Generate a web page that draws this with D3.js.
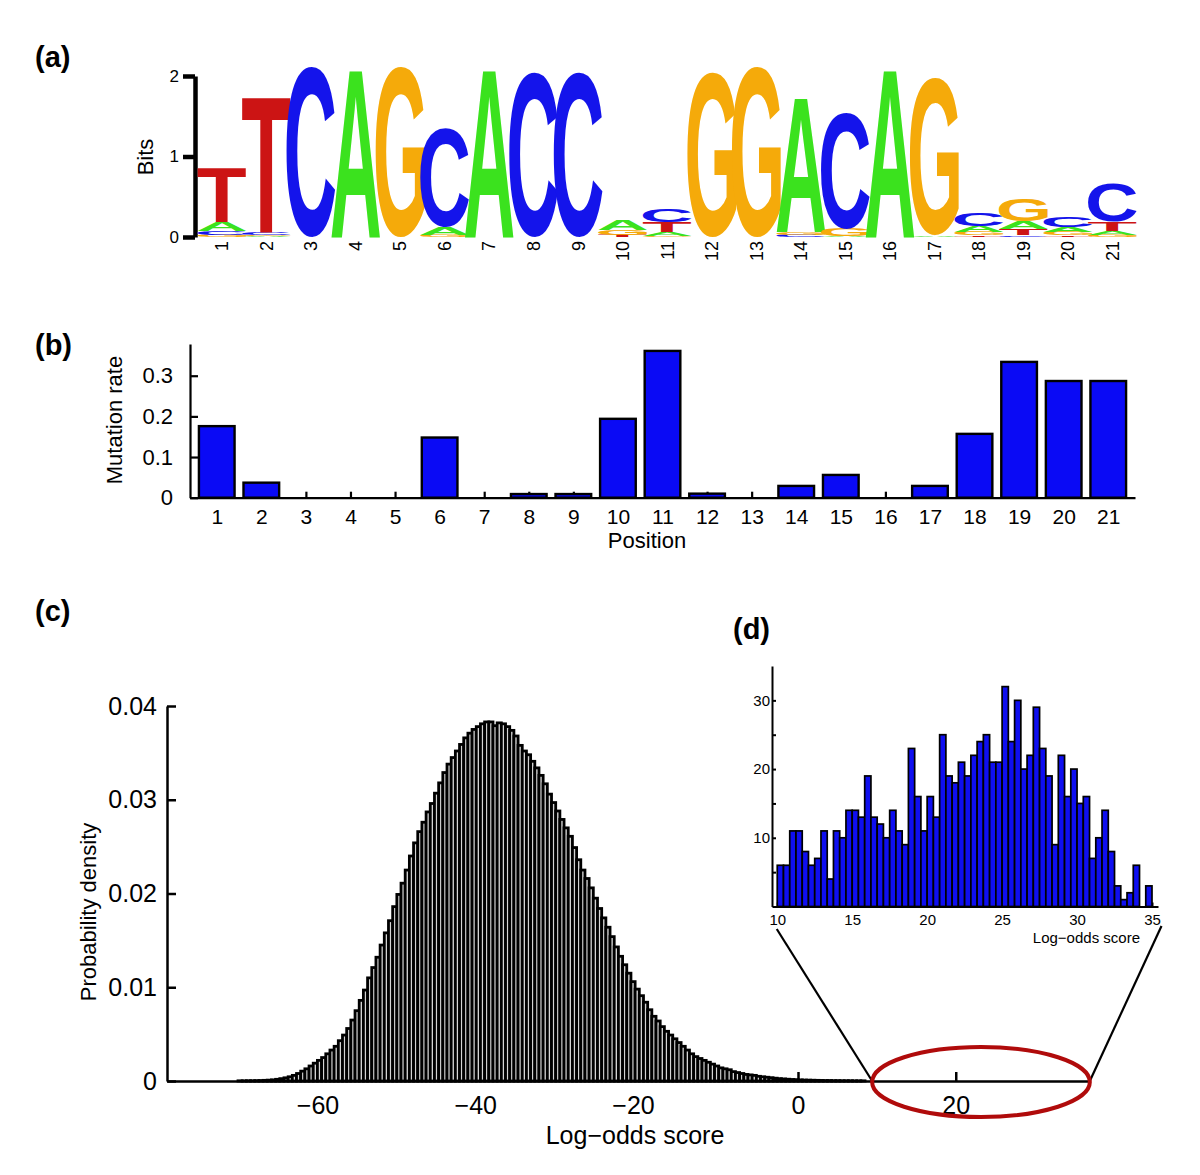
<!DOCTYPE html>
<html><head><meta charset="utf-8">
<script src="https://cdn.jsdelivr.net/npm/d3@7"></script>
<style>
body{margin:0;background:#fff}
svg text{font-family:"Liberation Sans",Arial,Helvetica,sans-serif}
</style>
</head><body>
<svg id="chart" width="1200" height="1175"></svg>
<script>
// ---------------- DATA ----------------
const positions = [1,2,3,4,5,6,7,8,9,10,11,12,13,14,15,16,17,18,19,20,21];
// sequence logo (bits per letter at each position)
const logoA = [0.11,0.01,0,2.10,0,0.09,2.10,0,0,0.12,0.05,0,0,1.68,0.01,2.10,0.02,0.08,0.09,0.06,0.05];
const logoC = [0.05,0.03,2.11,0,0,1.23,0,2.05,2.05,0,0.16,0,0,0.03,1.44,0,0,0.16,0.02,0.13,0.48];
const logoG = [0.03,0.01,0,0,2.11,0.03,0,0,0,0.06,0.01,2.05,2.11,0.03,0.09,0,1.95,0.04,0.27,0.04,0.03];
const logoT = [0.67,1.69,0,0,0,0,0,0,0,0.03,0.13,0,0,0,0,0,0,0.02,0.08,0.02,0.11];
const logoTicks = [0,1,2];
// mutation rate per position
const mutationRate = [0.176,0.037,0,0,0,0.148,0,0.009,0.009,0.194,0.361,0.010,0,0.029,0.056,0,0.029,0.157,0.334,0.287,0.287];
const mutTicks = [0,0.1,0.2,0.3];
// main histogram: probability density (x 1e-4) in consecutive bins
const mainBinStart = -71.0;
const mainBinWidth = 0.53;
const mainDensityE4 = [
 0.2,0.2,0.3,0.3,0.4,0.5,0.7,0.9,1.2,1.8,
 2.5,3.4,4.5,6,8,10.5,13,16,19,22,
 25,29,33,37,43,49,56,65,75,86,
 97,110,121,132,145,158,171,186,199,211,
 225,240,254,266,276,287,296,307,318,329,
 338,345,352,359,366,371,375,378,381,383,
 383,379,382,381,378,374,368,358,352,348,
 341,334,326,317,306,297,288,279,270,261,
 249,236,225,216,206,195,184,174,164,154,
 143,133,124,115,106,98,91,84,76,69,
 64,58,53,49,45,41,37,33,29,26,
 24,22,20,18,16,14,13,12,10,9,
 8,7,6.5,6,5,4.5,4,3.5,3,2.5,
 2.2,1.9,1.6,1.4,1.2,1.0,0.9,0.8,0.7,0.6,
 0.5,0.5,0.4,0.4,0.3,0.3,0.3,0.2,0.2,0.2];
const mainXTicks = [-60,-40,-20,0,20];
const mainYTicks = [0,0.01,0.02,0.03,0.04];
// inset histogram: counts in 60 bins spanning 10..35
const insetRange = [10,35];
const insetCounts = [6,6,11,11,8,6,7,11,4,11,10,14,14,13,19,13,12,10,14,11,9,23,16,11,16,13,25,19,18,21,
                     19,22,24,25,21,21,32,24,30,20,22,29,23,19,9,22,16,20,15,16,7,10,14,8,3,1,2,6,0,3];
const insetXTicks = [10,15,20,25,30,35];
const insetYTickMarks = [5,10,15,20,25,30];
const insetYTickLabels = [10,20,30];
const zoomWindow = [9.4, 37.0]; // highlighted score range in (c)

// ---------------- DRAW ----------------
const FONT = '"Liberation Sans", Arial, Helvetica, sans-serif';
const svg = d3.select('#chart');
const letterColor = {A:'#3be21e', C:'#1414eb', G:'#f5aa0a', T:'#cc1414'};

function styleAxis(g, sw, fs) {
  g.attr('font-family', FONT).attr('font-size', fs);
  g.select('.domain').attr('stroke', '#000').attr('stroke-width', sw).attr('fill','none');
  g.selectAll('.tick line').attr('stroke', '#000').attr('stroke-width', sw);
  g.selectAll('.tick text').attr('fill', '#000');
}
function panelLabel(t, x, y) {
  svg.append('text').attr('x', x).attr('y', y).attr('font-size', 29)
     .attr('font-weight', 'bold').text(t);
}

// ===== (a) sequence logo =====
panelLabel('(a)', 35, 67);
const logoX = d3.scaleLinear().domain([1, 21]).range([222, 1112.5]);
const bitsY = d3.scaleLinear().domain([0, 2]).range([237, 76]);
const gA = svg.append('g');
const ayAxis = gA.append('g').attr('transform', 'translate(195,0)')
  .call(d3.axisLeft(bitsY).tickValues(logoTicks).tickSize(12).tickSizeOuter(0).tickPadding(4).tickFormat(d3.format('d')));
styleAxis(ayAxis, 4.5, 17);
gA.append('text').attr('transform', 'translate(145,157) rotate(-90)')
  .attr('text-anchor', 'middle').attr('dy', '0.35em').attr('font-size', 22).text('Bits');

// glyph ink boxes
const ctx = document.createElement('canvas').getContext('2d');
ctx.font = 'bold 100px "Liberation Sans"';
const gbox = {};
['A','C','G','T'].forEach(ch => {
  const m = ctx.measureText(ch);
  gbox[ch] = {l: -m.actualBoundingBoxLeft, r: m.actualBoundingBoxRight,
              t: -m.actualBoundingBoxAscent, b: m.actualBoundingBoxDescent};
});
const letterW = 49;
const gLetters = gA.append('g');
positions.forEach((p, i) => {
  const stack = [['A', logoA[i]], ['C', logoC[i]], ['G', logoG[i]], ['T', logoT[i]]]
    .filter(d => d[1] > 0).sort((a, b) => a[1] - b[1]);
  let base = 0;
  stack.forEach(([ch, v]) => {
    const y0 = bitsY(base + v), y1 = bitsY(base);
    const x0 = logoX(p) - letterW / 2;
    const bb = gbox[ch];
    const sx = letterW / (bb.r - bb.l), sy = (y1 - y0) / (bb.b - bb.t);
    gLetters.append('text')
      .attr('transform', `translate(${x0},${y0}) scale(${sx},${sy}) translate(${-bb.l},${-bb.t})`)
      .attr('font-size', 100).attr('font-weight', 'bold')
      .attr('fill', letterColor[ch]).text(ch);
    base += v;
  });
  gA.append('text').attr('transform', `translate(${logoX(p)},241) rotate(-90)`)
    .attr('text-anchor', 'end').attr('dy', '0.35em').attr('font-size', 18).text(p);
});

// ===== (b) mutation rate =====
panelLabel('(b)', 35, 355);
const bx = d3.scaleLinear().domain([0.4, 21.6]).range([190, 1135]);
const by = d3.scaleLinear().domain([0, 0.378]).range([497.7, 344]);
const gB = svg.append('g');
const bxAxis = gB.append('g').attr('transform', `translate(0,${by(0)})`)
  .call(d3.axisBottom(bx).tickValues(positions).tickSize(-6).tickSizeOuter(0).tickPadding(11).tickFormat(d3.format('d')));
styleAxis(bxAxis, 2.2, 21);
const byAxis = gB.append('g').attr('transform', `translate(${bx(0.4)},0)`)
  .call(d3.axisLeft(by).tickValues(mutTicks).tickSize(-8).tickSizeOuter(0).tickPadding(17)
        .tickFormat(d => d === 0 ? '0' : d3.format('.1f')(d)));
styleAxis(byAxis, 2.2, 22);
gB.selectAll('rect.mb').data(positions.map((p, i) => ({p, v: mutationRate[i]})).filter(d => d.v > 0))
  .join('rect').attr('class', 'mb')
  .attr('x', d => bx(d.p - 0.4)).attr('width', d => bx(d.p + 0.4) - bx(d.p - 0.4))
  .attr('y', d => by(d.v)).attr('height', d => by(0) - by(d.v))
  .attr('fill', '#0a0af5').attr('stroke', '#000').attr('stroke-width', 2.4);
gB.append('text').attr('transform', 'translate(114,420) rotate(-90)')
  .attr('text-anchor', 'middle').attr('dy', '0.35em').attr('font-size', 22).text('Mutation rate');
gB.append('text').attr('x', 647).attr('y', 548).attr('text-anchor', 'middle')
  .attr('font-size', 22).text('Position');

// ===== (c) score distribution =====
panelLabel('(c)', 35, 621);
const cx = d3.scaleLinear().domain([-80, 37]).range([167, 167 + 117 * 7.8875]);
const cy = d3.scaleLinear().domain([0, 0.04]).range([1081, 706]);
const gC = svg.append('g');
const cxAxis = gC.append('g').attr('transform', `translate(0,${cy(0)})`)
  .call(d3.axisBottom(cx).tickValues(mainXTicks).tickSize(-9).tickSizeOuter(0).tickPadding(15)
        .tickFormat(d => d < 0 ? '\u2212' + Math.abs(d) : String(d)));
styleAxis(cxAxis, 2.5, 25);
cxAxis.selectAll('.tick text').filter(d => d < 0).attr('dx', '-0.29em');
const cyAxis = gC.append('g').attr('transform', `translate(${cx(-80)},0)`)
  .call(d3.axisLeft(cy).tickValues(mainYTicks).tickSize(-9).tickSizeOuter(0).tickPadding(10)
        .tickFormat(d => d === 0 ? '0' : d3.format('.2f')(d)));
styleAxis(cyAxis, 2.5, 25);
const mainBins = mainDensityE4.map((v, i) => ({x0: mainBinStart + i * mainBinWidth, d: v * 1e-4}));
gC.selectAll('rect.hb').data(mainBins).join('rect').attr('class', 'hb')
  .attr('x', d => cx(d.x0)).attr('width', d => cx(d.x0 + mainBinWidth) - cx(d.x0))
  .attr('y', d => cy(d.d)).attr('height', d => cy(0) - cy(d.d))
  .attr('fill', '#d4d4d4').attr('stroke', '#000').attr('stroke-width', 2.8);
gC.append('text').attr('transform', 'translate(88,912) rotate(-90)')
  .attr('text-anchor', 'middle').attr('dy', '0.35em').attr('font-size', 22).text('Probability density');
gC.append('text').attr('x', 635).attr('y', 1144).attr('text-anchor', 'middle')
  .attr('font-size', 25).text('Log\u2212odds score');

// ===== (d) inset =====
panelLabel('(d)', 733, 639);
const ix = d3.scaleLinear().domain([9.65, 35.4]).range([772, 1158]);
const iy = d3.scaleLinear().domain([0, 35]).range([906.5, 666]);
const gD = svg.append('g');
const insetW = (insetRange[1] - insetRange[0]) / insetCounts.length;
const ixAxis = gD.append('g').attr('transform', `translate(0,${iy(0)})`)
  .call(d3.axisBottom(ix).tickValues(insetXTicks).tickSize(-4).tickSizeOuter(0).tickPadding(8).tickFormat(d3.format('d')));
styleAxis(ixAxis, 2, 15);
const iyAxis = gD.append('g').attr('transform', `translate(${ix(9.65)},0)`)
  .call(d3.axisLeft(iy).tickValues(insetYTickMarks).tickSize(-4).tickSizeOuter(0).tickPadding(2)
        .tickFormat(d => insetYTickLabels.includes(d) ? d3.format('d')(d) : ''));
styleAxis(iyAxis, 2, 15);
gD.selectAll('rect.ib').data(insetCounts.map((c, i) => ({x0: insetRange[0] + i * insetW, c})).filter(d => d.c > 0))
  .join('rect').attr('class', 'ib')
  .attr('x', d => ix(d.x0)).attr('width', d => ix(d.x0 + insetW) - ix(d.x0))
  .attr('y', d => iy(d.c)).attr('height', d => iy(0) - iy(d.c))
  .attr('fill', '#0f0ff0').attr('stroke', '#000').attr('stroke-width', 1.7);
gD.append('text').attr('x', 1140).attr('y', 943).attr('text-anchor', 'end')
  .attr('font-size', 15).text('Log\u2212odds score');

// zoom connectors and ellipse
gC.append('line').attr('x1', ix(10) - 0.5).attr('y1', 929).attr('x2', cx(zoomWindow[0])).attr('y2', cy(0))
  .attr('stroke', '#000').attr('stroke-width', 2.2);
gC.append('line').attr('x1', 1161.5).attr('y1', 926).attr('x2', cx(zoomWindow[1])).attr('y2', cy(0))
  .attr('stroke', '#000').attr('stroke-width', 2.2);
gC.append('ellipse')
  .attr('cx', (cx(zoomWindow[0]) + cx(zoomWindow[1])) / 2).attr('cy', cy(0) + 1)
  .attr('rx', (cx(zoomWindow[1]) - cx(zoomWindow[0])) / 2).attr('ry', 35)
  .attr('fill', 'none').attr('stroke', '#b00b0b').attr('stroke-width', 4);
</script>
</body></html>
